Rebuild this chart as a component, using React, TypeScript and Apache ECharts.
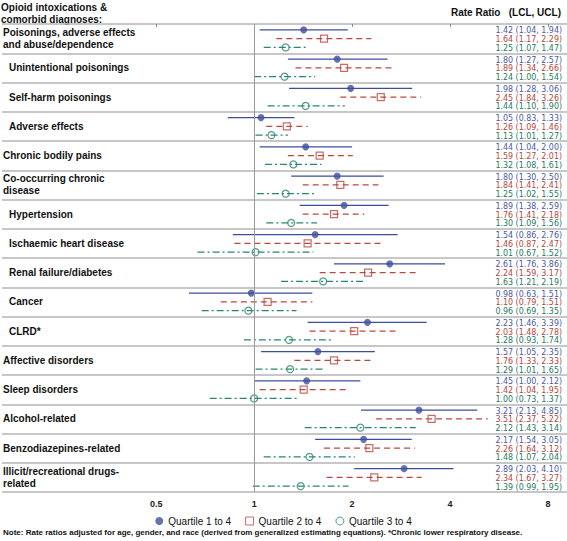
import React, { useEffect, useRef } from "react";
import * as echarts from "echarts";

const CATEGORIES = [
  "Poisonings, adverse effects\nand abuse/dependence",
  "Unintentional poisonings",
  "Self-harm poisonings",
  "Adverse effects",
  "Chronic bodily pains",
  "Co-occurring chronic\ndisease",
  "Hypertension",
  "Ischaemic heart disease",
  "Renal failure/diabetes",
  "Cancer",
  "CLRD*",
  "Affective disorders",
  "Sleep disorders",
  "Alcohol-related",
  "Benzodiazepines-related",
  "Illicit/recreational drugs-\nrelated",
];
const SUB_CATEGORIES = [
  "Unintentional poisonings",
  "Self-harm poisonings",
  "Adverse effects",
  "Hypertension",
  "Ischaemic heart disease",
  "Renal failure/diabetes",
  "Cancer",
  "CLRD*",
];

const Q1_RR = [1.42, 1.8, 1.98, 1.05, 1.44, 1.8, 1.89, 1.54, 2.61, 0.98, 2.23, 1.57, 1.45, 3.21, 2.17, 2.89];
const Q1_LCL = [1.04, 1.27, 1.28, 0.83, 1.04, 1.3, 1.38, 0.86, 1.76, 0.63, 1.46, 1.05, 1.0, 2.13, 1.54, 2.03];
const Q1_UCL = [1.94, 2.57, 3.06, 1.33, 2.0, 2.5, 2.59, 2.76, 3.86, 1.51, 3.39, 2.35, 2.12, 4.85, 3.05, 4.1];

const Q2_RR = [1.64, 1.89, 2.45, 1.26, 1.59, 1.84, 1.76, 1.46, 2.24, 1.1, 2.03, 1.76, 1.42, 3.51, 2.26, 2.34];
const Q2_LCL = [1.17, 1.34, 1.84, 1.09, 1.27, 1.41, 1.41, 0.87, 1.59, 0.79, 1.48, 1.33, 1.04, 2.37, 1.64, 1.67];
const Q2_UCL = [2.29, 2.66, 3.26, 1.46, 2.01, 2.41, 2.18, 2.47, 3.17, 1.51, 2.78, 2.33, 1.95, 5.22, 3.12, 3.27];

const Q3_RR = [1.25, 1.24, 1.44, 1.13, 1.32, 1.25, 1.3, 1.01, 1.63, 0.96, 1.28, 1.29, 1.0, 2.12, 1.48, 1.39];
const Q3_LCL = [1.07, 1.0, 1.1, 1.01, 1.08, 1.02, 1.09, 0.67, 1.21, 0.69, 0.93, 1.01, 0.73, 1.43, 1.07, 0.99];
const Q3_UCL = [1.47, 1.54, 1.9, 1.27, 1.61, 1.55, 1.56, 1.52, 2.19, 1.35, 1.74, 1.65, 1.37, 3.14, 2.04, 1.95];

const TICK_VALUES = [0.5, 1, 2, 4, 8];
const SERIES_NAMES = ["Quartile 1 to 4", "Quartile 2 to 4", "Quartile 3 to 4"];

const BLUE = "#3e4e9c";
const RED = "#b84a3f";
const GREEN = "#2a8570";
const TXT_BLUE = "#4a5aa6";
const TXT_RED = "#b4463c";
const TXT_GREEN = "#1f7a5f";

const FONT = "'Liberation Sans', Arial, Helvetica, sans-serif";
const NARROW = "'Liberation Sans Narrow', 'DejaVu Sans Condensed', 'Liberation Sans', sans-serif";

const X_MIN = -2.574;
const X_MAX = 3.194;

const log2 = (v: number) => Math.log(v) / Math.LN2;

export default function App() {
  const ref = useRef<HTMLDivElement>(null);
  useEffect(() => {
    document.body.style.margin = "0";
    if (!ref.current) return;
    const chart = echarts.init(ref.current, null, { renderer: "svg" });

    const groups = [
      { rr: Q1_RR, lcl: Q1_LCL, ucl: Q1_UCL, off: 0.2, color: BLUE, txt: TXT_BLUE, dash: [] as number[], symbol: "circle", filled: true },
      { rr: Q2_RR, lcl: Q2_LCL, ucl: Q2_UCL, off: 0.5, color: RED, txt: TXT_RED, dash: [6, 4], symbol: "rect", filled: false },
      { rr: Q3_RR, lcl: Q3_LCL, ucl: Q3_UCL, off: 0.8, color: GREEN, txt: TXT_GREEN, dash: [7, 3, 2, 3], symbol: "circle", filled: false },
    ];

    const series: any[] = [];
    groups.forEach((g, gi) => {
      series.push({
        type: "custom",
        name: "ci" + gi,
        xAxisIndex: 0,
        yAxisIndex: 0,
        encode: { x: [0, 1, 2], y: 3 },
        data: g.rr.map((r, i) => [log2(g.lcl[i]), log2(r), log2(g.ucl[i]), i + g.off, r, g.lcl[i], g.ucl[i]]),
        renderItem: (params: any, api: any) => {
          const y = api.value(3);
          const p1 = api.coord([api.value(0), y]);
          const p2 = api.coord([api.value(2), y]);
          const right = api.coord([X_MAX, y]);
          const label = `${(api.value(4) as number).toFixed(2)} (${(api.value(5) as number).toFixed(2)}, ${(api.value(6) as number).toFixed(2)})`;
          return {
            type: "group",
            children: [
              {
                type: "line",
                shape: { x1: p1[0], y1: p1[1], x2: p2[0], y2: p2[1] },
                style: { stroke: g.color, lineWidth: 1.3, lineDash: g.dash.length ? g.dash : null },
              },
              {
                type: "text",
                style: {
                  text: label,
                  x: right[0] - 5,
                  y: right[1] + 0.5,
                  align: "right",
                  verticalAlign: "middle",
                  fill: g.txt,
                  fontSize: 8.8,
                  fontFamily: NARROW,
                },
              },
            ],
          };
        },
        z: 2,
      });
    });
    groups.forEach((g, gi) => {
      series.push({
        type: "scatter",
        name: SERIES_NAMES[gi],
        xAxisIndex: 0,
        yAxisIndex: 0,
        symbol: g.symbol,
        symbolSize: 7,
        data: g.rr.map((r, i) => [log2(r), i + g.off]),
        itemStyle: g.filled
          ? { color: g.color }
          : { color: "rgba(255,255,255,0)", borderColor: g.color, borderWidth: 1.2 },
        z: 3,
        markLine:
          gi === 0
            ? {
                silent: true,
                symbol: "none",
                label: { show: false },
                lineStyle: { color: "#9a9a9a", type: "solid", width: 1 },
                data: [{ xAxis: 0 }],
              }
            : undefined,
      });
    });

    const option: any = {
      animation: false,
      backgroundColor: "#ffffff",
      grid: { left: 0, right: 0, top: 24, height: 468, containLabel: false },
      xAxis: {
        type: "value",
        min: X_MIN,
        max: X_MAX,
        axisLine: { show: false },
        splitLine: { show: false },
        axisTick: {
          show: true,
          length: 3,
          customValues: TICK_VALUES.map(log2),
          lineStyle: { color: "#888" },
        },
        axisLabel: {
          customValues: TICK_VALUES.map(log2),
          formatter: (v: number) => String(Math.round(Math.pow(2, v) * 100) / 100),
          fontFamily: FONT,
          fontWeight: "bold",
          fontSize: 9,
          color: "#222",
          margin: 7,
        },
      },
      yAxis: [
        {
          type: "value",
          inverse: true,
          min: 0,
          max: 16,
          interval: 1,
          axisLine: { show: false },
          axisTick: { show: false },
          axisLabel: { show: false },
          splitLine: { show: true, lineStyle: { color: "#b4b4b4", width: 1.5 } },
        },
        {
          type: "category",
          inverse: true,
          position: "left",
          data: CATEGORIES,
          axisLine: { show: false },
          axisTick: { show: false },
          splitLine: { show: false },
          axisLabel: {
            inside: true,
            margin: 1,
            align: "left",
            formatter: (v: string) => {
              const st = SUB_CATEGORIES.includes(v) ? "s" : "m";
              return v
                .split("\n")
                .map((l) => `{${st}|${l}}`)
                .join("\n");
            },
            rich: {
              m: { fontFamily: FONT, fontWeight: "bold", fontSize: 10, color: "#111", lineHeight: 12 },
              s: { fontFamily: FONT, fontWeight: "bold", fontSize: 10, color: "#111", lineHeight: 12, padding: [0, 0, 0, 6] },
            },
          },
        },
      ],
      legend: {
        left: "center",
        top: 511,
        itemWidth: 8,
        itemHeight: 8,
        itemGap: 14,
        textStyle: { fontFamily: FONT, fontSize: 10, color: "#111" },
        data: [
          { name: SERIES_NAMES[0], icon: "circle", itemStyle: { color: BLUE } },
          { name: SERIES_NAMES[1], icon: "rect", itemStyle: { color: "rgba(255,255,255,0)", borderColor: RED, borderWidth: 1 } },
          { name: SERIES_NAMES[2], icon: "circle", itemStyle: { color: "rgba(255,255,255,0)", borderColor: GREEN, borderWidth: 1 } },
        ],
      },
      graphic: [
        {
          type: "text",
          left: 1,
          top: 1.5,
          style: {
            text: "Opioid intoxications &\ncomorbid diagnoses:",
            fontFamily: FONT,
            fontWeight: "bold",
            fontSize: 10,
            lineHeight: 12,
            fill: "#111",
          },
        },
        {
          type: "text",
          right: 6,
          top: 7,
          style: {
            text: "Rate Ratio   (LCL, UCL)",
            fontFamily: FONT,
            fontWeight: "bold",
            fontSize: 10,
            fill: "#111",
          },
        },
        {
          type: "text",
          left: 3,
          top: 528,
          style: {
            text: "Note: Rate ratios adjusted for age, gender, and race (derived from generalized estimating equations). *Chronic lower respiratory disease.",
            fontFamily: FONT,
            fontWeight: "bold",
            fontSize: 8,
            fill: "#111",
          },
        },
      ],
      series,
    };
    chart.setOption(option);
    return () => chart.dispose();
  }, []);
  return <div ref={ref} style={{ width: 567, height: 541 }} />;
}
